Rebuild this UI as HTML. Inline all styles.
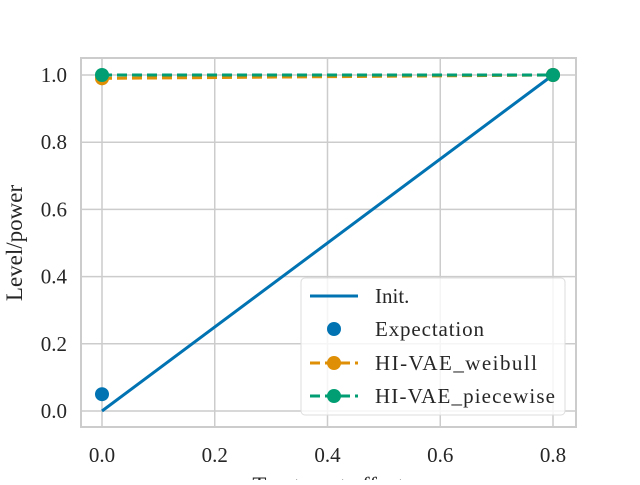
<!DOCTYPE html>
<html><head><meta charset="utf-8"><style>
body{margin:0;background:#fff}
svg text{font-family:"Liberation Serif",serif;fill:#262626}
</style></head><body>
<svg width="640" height="480">
<g id="grid"></g>
<rect x="81" y="58" width="495" height="369" fill="none" stroke="#cccccc" stroke-width="2"/>
<g id="ticks"></g>
<g id="marks"></g>
<text x="328" y="493" font-size="23" text-anchor="middle">Treatment effect</text>
<text transform="translate(22,243) rotate(-90)" font-size="23" text-anchor="middle">Level/power</text>
<g>
<rect x="301" y="278" width="264" height="137" rx="4" fill="#fff" fill-opacity="0.8" stroke="#dddddd"/>
<g><line x1="310" y1="296" x2="358" y2="296" stroke="#0173b2" stroke-width="3"/><text x="375" y="303" font-size="21">Init.</text></g>
<g><circle cx="334" cy="329" r="7" fill="#0173b2"/><text x="375" y="336" font-size="21" textLength="109">Expectation</text></g>
<g><line x1="310" y1="363" x2="358" y2="363" stroke="#de8f05" stroke-width="3" stroke-dasharray="10,5"/><circle cx="334" cy="363" r="7" fill="#de8f05"/><text x="375" y="370" font-size="21" textLength="162">HI-VAE_weibull</text></g>
<g><line x1="310" y1="396" x2="358" y2="396" stroke="#029e73" stroke-width="3" stroke-dasharray="10,5"/><circle cx="334" cy="396" r="7" fill="#029e73"/><text x="375" y="403" font-size="21" textLength="180">HI-VAE_piecewise</text></g>
</g>
</svg>
<script>
const xValues=[0,0.8];
const initValues=[0,1];
const expectationValues=[0.05,1.0];
const weibullValues=[0.99,1.0];
const piecewiseValues=[1.0,1.0];
const xTicks=[0,0.2,0.4,0.6,0.8];
const yTicks=[0,0.2,0.4,0.6,0.8,1.0];
const xs=v=>102+v*(553-102)/0.8;
const ys=v=>411-v*(411-75);
const NS="http://www.w3.org/2000/svg";
function mk(tag,attrs,parent){const e=document.createElementNS(NS,tag);for(const k in attrs)e.setAttribute(k,attrs[k]);document.getElementById(parent).appendChild(e);return e;}
xTicks.forEach(t=>{
 const l=mk('line',{x1:xs(t),x2:xs(t),y1:58,y2:427,stroke:'#cccccc','stroke-width':1.5},'grid');
 
 
 const tx=mk('text',{x:xs(t),y:462,'font-size':21,'text-anchor':'middle'},'ticks');
 tx.textContent=t.toFixed(1);
 
 
});
yTicks.forEach(t=>{
 const l=mk('line',{x1:81,x2:576,y1:ys(t),y2:ys(t),stroke:'#cccccc','stroke-width':1.5},'grid');
 
 
 const tx=mk('text',{x:67,y:ys(t)+7,'font-size':21,'text-anchor':'end'},'ticks');
 tx.textContent=t.toFixed(1);
 
 
});
function pts(vals){return vals.map((v,i)=>xs(xValues[i])+','+ys(v)).join(' ');}
const initLine=mk('polyline',{points:pts(initValues),fill:'none',stroke:'#0173b2','stroke-width':3},'marks');


expectationValues.forEach((v,i)=>{
 const c=mk('circle',{cx:xs(xValues[i]),cy:ys(v),r:7,fill:'#0173b2'},'marks');
 
 
});
[[weibullValues,'#de8f05','weibull'],[piecewiseValues,'#029e73','piecewise']].forEach(([vals,col,nm])=>{
 const l=mk('polyline',{points:pts(vals),fill:'none',stroke:col,'stroke-width':3,'stroke-dasharray':'10,5'},'marks');
 
 
 vals.forEach((v,i)=>{
  const c=mk('circle',{cx:xs(xValues[i]),cy:ys(v),r:7,fill:col},'marks');
  
  
 });
});
</script>
</body></html>
